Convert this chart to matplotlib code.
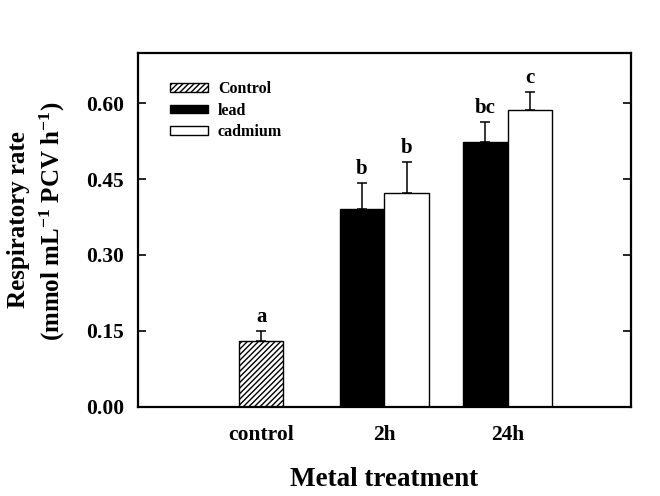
import numpy as np
import matplotlib
matplotlib.use('Agg')
import matplotlib.pyplot as plt

plt.rcParams['font.family'] = ['Liberation Serif', 'DejaVu Serif']
plt.rcParams['font.weight'] = 'bold'
plt.rcParams['mathtext.fontset'] = 'custom'
plt.rcParams['mathtext.rm'] = 'Liberation Serif:bold'
plt.rcParams['mathtext.bf'] = 'Liberation Serif:bold'
plt.rcParams['mathtext.it'] = 'Liberation Serif:bold'
plt.rcParams['hatch.linewidth'] = 1.0

# Data
groups = ['control', '2h', '24h']
control_mean = [0.129]
control_err = [0.020]
lead_mean = [0.391, 0.524]
lead_err = [0.051, 0.039]
cadmium_mean = [0.423, 0.586]
cadmium_err = [0.061, 0.036]
control_letters = ['a']
lead_letters = ['b', 'bc']
cadmium_letters = ['b', 'c']

x_ctrl = np.array([1.0])
x_metal = np.array([2.0, 3.0])
w = 0.362

fig = plt.figure(figsize=(6.6, 4.96), dpi=100)
ax = fig.add_axes([0.209, 0.180, 0.7466, 0.7138])

err_kw = dict(ecolor='black', elinewidth=1.1, capsize=3.6, capthick=1.1)

b1 = ax.bar(x_ctrl, control_mean, w, color='white', edgecolor='black',
            hatch='//////', linewidth=1.0, label='Control')
ax.errorbar(x_ctrl, control_mean, yerr=[np.zeros(1), control_err], fmt='none', **err_kw)

b2 = ax.bar(x_metal - w / 2, lead_mean, w, color='black', edgecolor='black',
            linewidth=1.0, label='lead')
ax.errorbar(x_metal - w / 2, lead_mean, yerr=[np.zeros(2), lead_err], fmt='none', **err_kw)

b3 = ax.bar(x_metal + w / 2, cadmium_mean, w, color='white', edgecolor='black',
            linewidth=1.0, label='cadmium')
ax.errorbar(x_metal + w / 2, cadmium_mean, yerr=[np.zeros(2), cadmium_err], fmt='none', **err_kw)

# significance letters
def put_letters(xs, means, errs, letters):
    for xx, m, e, s in zip(xs, means, errs, letters):
        ax.annotate(s, (xx, m + e), xytext=(0, 3), textcoords='offset points',
                    ha='center', va='bottom', fontsize=15, fontweight='bold')

put_letters(x_ctrl, control_mean, control_err, control_letters)
put_letters(x_metal - w / 2, lead_mean, lead_err, lead_letters)
put_letters(x_metal + w / 2, cadmium_mean, cadmium_err, cadmium_letters)

ax.set_xlim(0, 4)
ax.set_ylim(0, 0.70)
ax.set_xticks([1, 2, 3])
ax.set_xticklabels(groups)
ax.set_yticks([0.0, 0.15, 0.30, 0.45, 0.60])
ax.set_yticklabels(['0.00', '0.15', '0.30', '0.45', '0.60'])
ax.tick_params(axis='x', length=0, pad=13, labelsize=15.5)
ax.tick_params(axis='y', direction='in', length=6, width=1.2, right=True,
               pad=10, labelsize=15.5)
for sp in ax.spines.values():
    sp.set_linewidth(1.6)

ax.set_xlabel('Metal treatment', fontsize=19.5, fontweight='bold', labelpad=16)

fig.text(19 / 660, 1 - 220 / 496, 'Respiratory rate', rotation=90,
         ha='center', va='center', fontsize=18, fontweight='bold')
fig.text(52 / 660, 1 - 221 / 496, r'(mmol mL$^{-1}$ PCV h$^{-1}$)', rotation=90,
         ha='center', va='center', fontsize=18, fontweight='bold')

ax.legend(handles=[b1, b2, b3], loc='upper left', bbox_to_anchor=(0.065, 0.92),
          frameon=False, handlelength=2.4, handleheight=0.45,
          handletextpad=0.6, labelspacing=0.35, borderpad=0, borderaxespad=0,
          prop={'weight': 'bold', 'size': 11.5})

fig.savefig('out.png', dpi=100)
